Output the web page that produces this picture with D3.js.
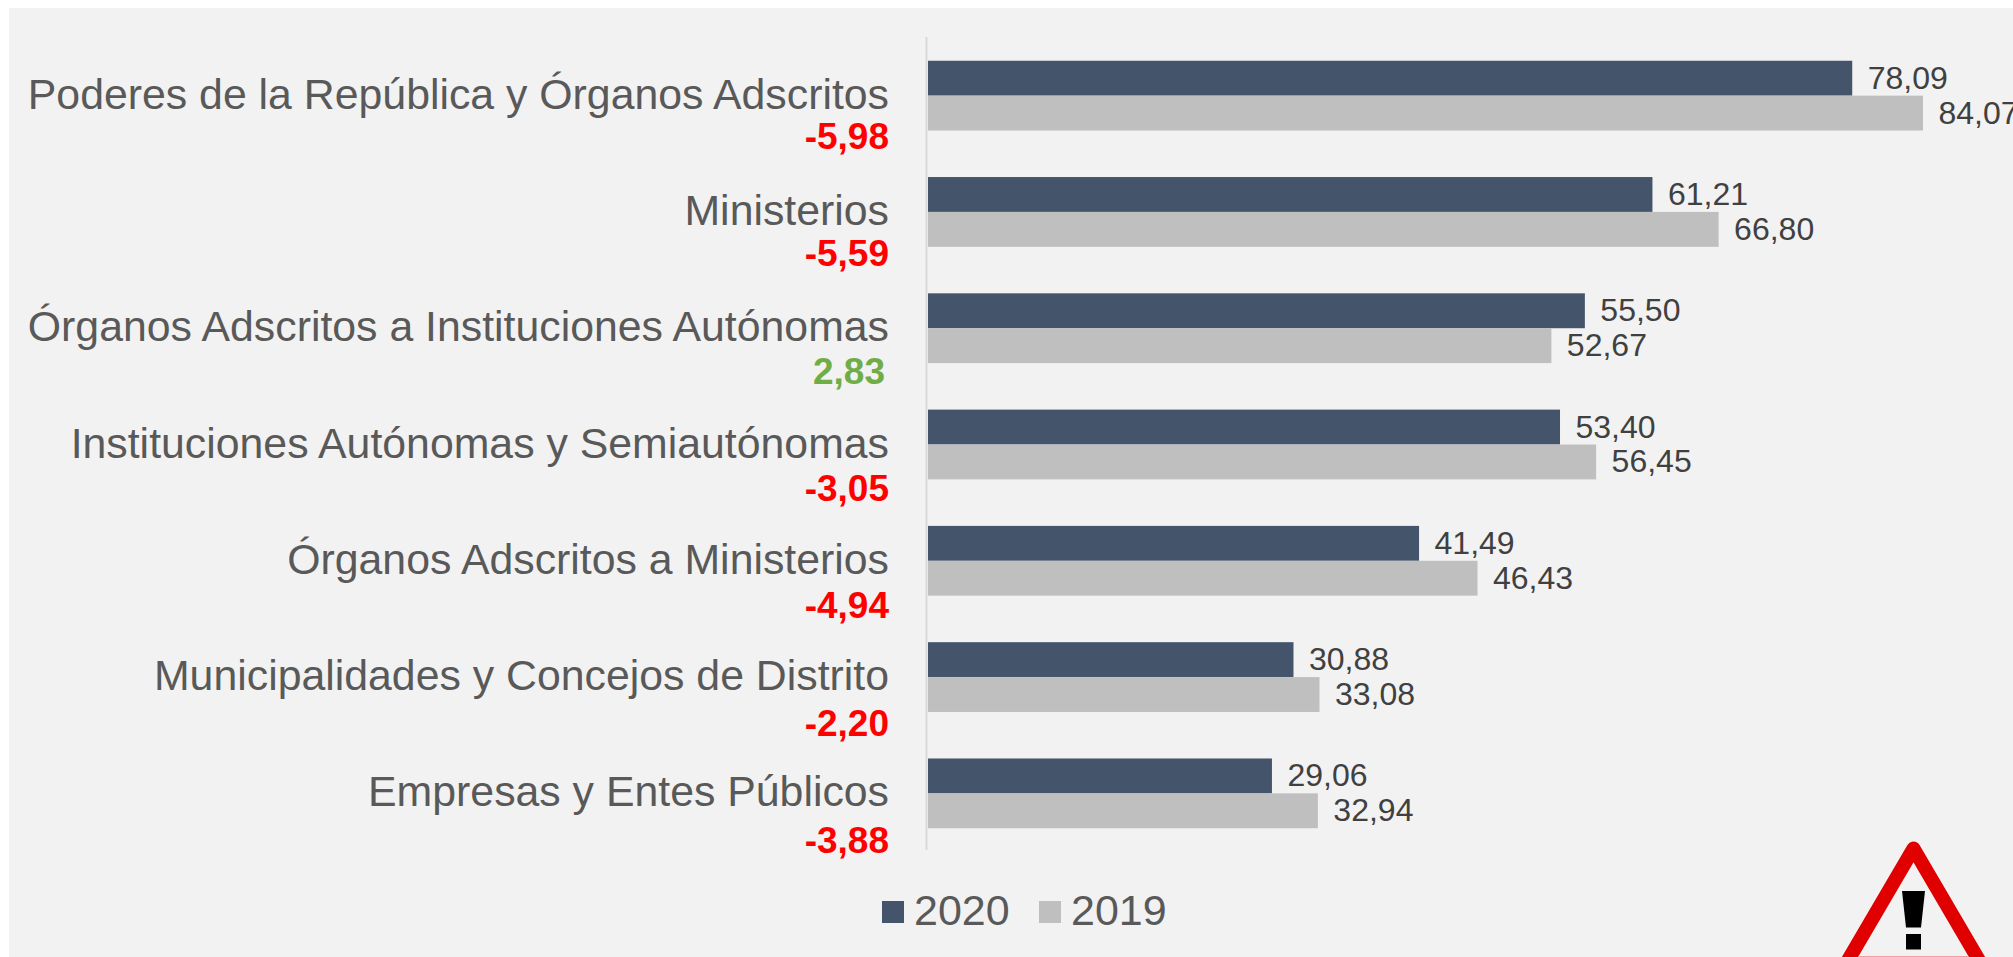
<!DOCTYPE html>
<html><head><meta charset="utf-8">
<script src="https://cdn.jsdelivr.net/npm/d3@7"></script>
<style>html,body{margin:0;padding:0;background:#fff;overflow:hidden}svg{display:block}text{font-family:"Liberation Sans",Arial,sans-serif}</style>
</head><body><svg id="c" width="2013" height="957"></svg>
<script>
const categories=["Poderes de la República y Órganos Adscritos","Ministerios","Órganos Adscritos a Instituciones Autónomas","Instituciones Autónomas y Semiautónomas","Órganos Adscritos a Ministerios","Municipalidades y Concejos de Distrito","Empresas y Entes Públicos"];
const values2020=[78.09,61.21,55.50,53.40,41.49,30.88,29.06];
const values2019=[84.07,66.80,52.67,56.45,46.43,33.08,32.94];
const differences=[-5.98,-5.59,2.83,-3.05,-4.94,-2.20,-3.88];
const seriesNames=["2020","2019"];
const colors={"2020":"#44546a","2019":"#bfbfbf"};
const comma=v=>v.toFixed(2).replace(".",",");
const svg=d3.select("#c");
svg.append("rect").attr("x",9).attr("y",8).attr("width",2004).attr("height",949).attr("fill","#f2f2f2");
const x=d3.scaleLinear().domain([0,84.07]).range([928,1923]);
const y=d3.scaleBand().domain(categories).range([37.5,851.5]).paddingInner(0.4).paddingOuter(0.2);
const yDiff=d3.scalePoint().domain(categories).range([149,853]);
const inner=d3.scaleBand().domain(seriesNames).range([0,y.bandwidth()]);
svg.append("line").attr("x1",926.5).attr("x2",926.5).attr("y1",37).attr("y2",850).attr("stroke","#d9d9d9").attr("stroke-width",2);
const rows=categories.map((c,i)=>({c,i,"2020":values2020[i],"2019":values2019[i],d:differences[i]}));
const g=svg.selectAll("g.row").data(rows).join("g").attr("class","row").attr("transform",d=>`translate(0,${y(d.c)})`);
seriesNames.forEach(s=>{
  g.append("rect").attr("x",x(0)).attr("y",inner(s)).attr("height",inner.bandwidth()).attr("width",d=>x(d[s])-x(0)).attr("fill",colors[s]);
  g.append("text").attr("x",d=>x(d[s])+15.5).attr("y",inner(s)+28).attr("font-size",32).attr("fill","#404040").text(d=>comma(d[s]));
});
g.append("text").attr("class","cat").attr("x",889).attr("y",48).attr("text-anchor","end").attr("font-size",42.8).attr("fill","#595959").text(d=>d.c);
svg.selectAll("text.diff").data(rows).join("text").attr("class","diff").attr("x",d=>d.d>0?885:889).attr("y",d=>yDiff(d.c)).attr("text-anchor","end").attr("font-size",37).attr("font-weight","bold").attr("fill",d=>d.d>0?"#70ad47":"#ff0000").text(d=>comma(d.d));
const legendX={"2020":882,"2019":1039};
seriesNames.forEach(s=>{
  svg.append("rect").attr("x",legendX[s]).attr("y",901).attr("width",22).attr("height",22).attr("fill",colors[s]);
  svg.append("text").attr("x",legendX[s]+32).attr("y",925).attr("font-size",43).attr("fill","#595959").text(s);
});
const clip=svg.append("defs").append("clipPath").attr("id","cl");clip.append("rect").attr("x",1800).attr("y",820).attr("width",213).attr("height",137);
const w=svg.append("g").attr("clip-path","url(#cl)");
w.append("path").attr("d","M1913.5 848.5 L1981.7 965 L1845.3 965 Z").attr("fill","#f2f2f2").attr("stroke","#e00000").attr("stroke-width",14).attr("stroke-linejoin","round");
w.append("path").attr("d","M1902 891 L1925 891 L1921 927.5 L1906 927.5 Z").attr("fill","#000");
w.append("rect").attr("x",1906).attr("y",934).attr("width",15).attr("height",15.5).attr("fill","#000");
w.append("line").attr("x1",1858).attr("x2",1969).attr("y1",956.5).attr("y2",956.5).attr("stroke","#f0a0a0").attr("stroke-width",1);
</script></body></html>
